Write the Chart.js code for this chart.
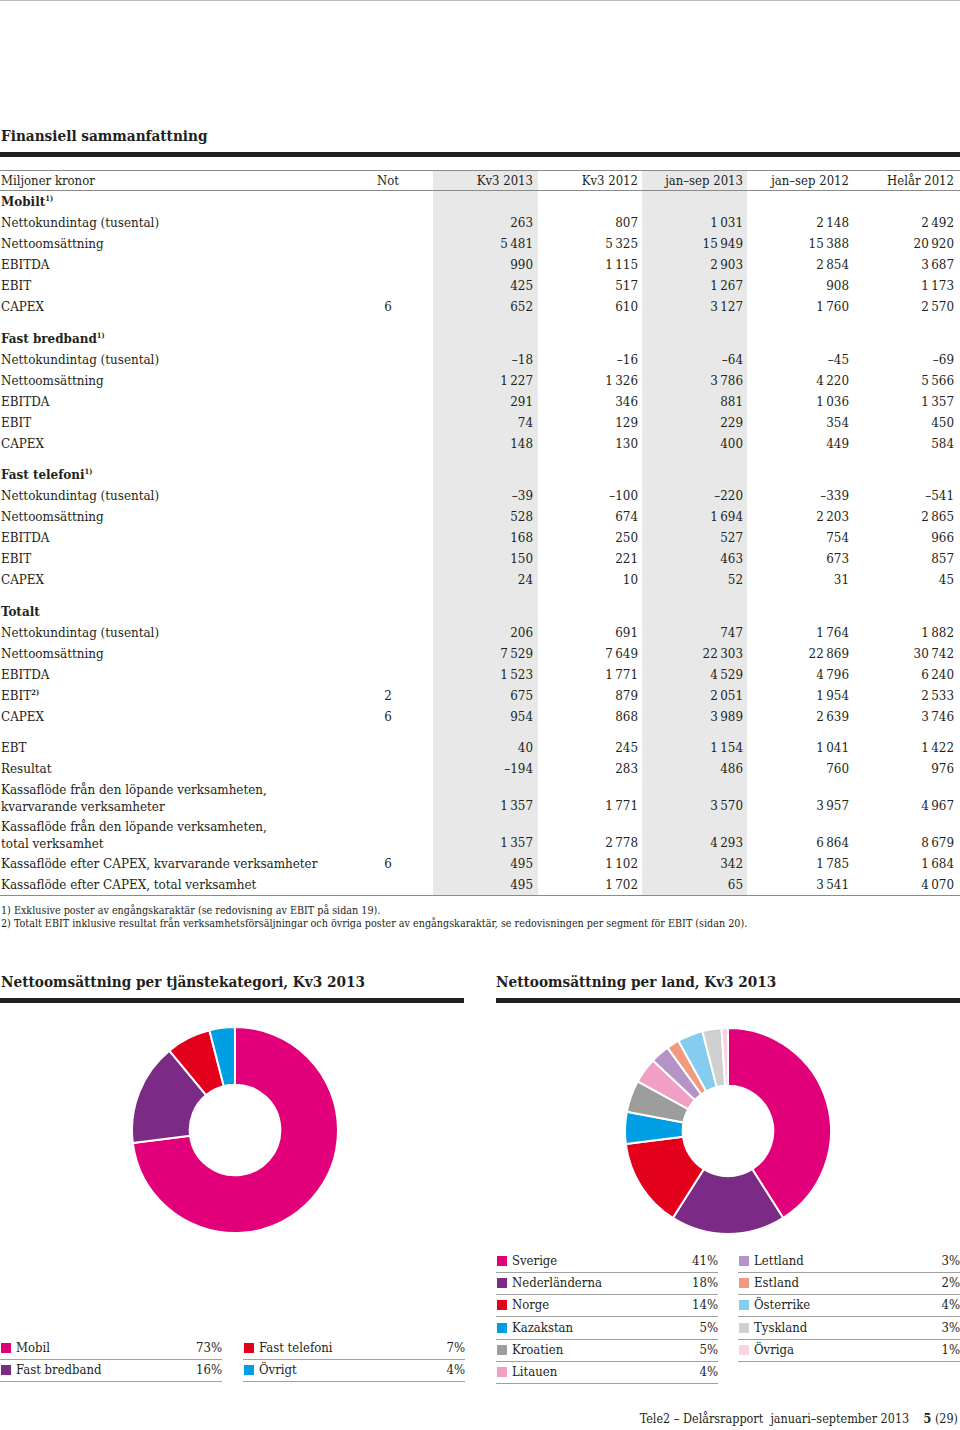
<!DOCTYPE html>
<html><head><meta charset="utf-8">
<script src="https://cdn.jsdelivr.net/npm/chart.js@4.4.0/dist/chart.umd.min.js"></script>
<style>
body{margin:0;width:960px;height:1430px;position:relative;background:#fff;font-family:"DejaVu Serif",serif;font-stretch:condensed;color:#231f20;overflow:hidden}
.abs{position:absolute}
.title{position:absolute;font-weight:bold;font-size:15.2px;line-height:20px;white-space:nowrap}
.bar{position:absolute;height:5px;background:#231f20}
.band{position:absolute;background:#e8e8e8;top:171px;height:725px;width:105px}
#table{position:absolute;left:0;top:170px;width:960px;font-size:13.3px}
.row{position:relative;height:21px;line-height:21px;white-space:nowrap}
.row span{position:absolute;top:0}
.lbl{left:1px}
.not{left:368px;width:40px;text-align:center}
.val{text-align:right}
.hdr{border-top:1.5px solid #8a8a8a;border-bottom:1.5px solid #8a8a8a;height:19px;line-height:19px;font-size:13px}
.bold{font-weight:bold}
sup{font-size:7.5px;line-height:0;vertical-align:5px;font-weight:bold}
.two{height:37px}
.two .lbl{line-height:17px;top:2px;white-space:pre}
.two .val,.two .not{top:16px}
.last{border-bottom:1.5px solid #8a8a8a}
.foot{position:absolute;left:1px;font-size:10.7px;line-height:13px;white-space:nowrap}
.leg{position:absolute;font-size:13px;height:22px;line-height:20px;border-bottom:1.5px solid #a0a0a0;box-sizing:border-box;white-space:nowrap}
.leg i{position:absolute;left:1px;top:5px;width:10px;height:10px}
.leg .t{position:absolute;left:16px}
.leg .p{position:absolute;right:0}
canvas{position:absolute}
</style></head>
<body>
<div class="abs" style="left:0;top:0;width:960px;height:1px;background:#bbb"></div>
<div class="title" style="left:1px;top:126px">Finansiell sammanfattning</div>
<div class="bar" style="left:0;top:152px;width:960px"></div>
<div class="band" style="left:433px"></div>
<div class="band" style="left:642px"></div>
<div id="table"></div>
<div class="foot" style="top:904px">1) Exklusive poster av engångskaraktär (se redovisning av EBIT på sidan 19).</div>
<div class="foot" style="top:917px">2) Totalt EBIT inklusive resultat från verksamhetsförsäljningar och övriga poster av engångskaraktär, se redovisningen per segment för EBIT (sidan 20).</div>

<div class="title" style="left:1px;top:972px">Nettoomsättning per tjänstekategori, Kv3 2013</div>
<div class="bar" style="left:0;top:998px;width:464px"></div>
<div class="title" style="left:496px;top:972px">Nettoomsättning per land, Kv3 2013</div>
<div class="bar" style="left:496px;top:998px;width:464px"></div>

<canvas id="c1" width="208" height="208" style="left:131px;top:1026px"></canvas>
<canvas id="c2" width="208" height="208" style="left:624px;top:1027px"></canvas>
<div id="legends"></div>

<div class="abs" style="right:2px;top:1410px;font-size:12.5px;line-height:18px;white-space:nowrap">Tele2 – Delårsrapport&nbsp; januari–september 2013&nbsp;&nbsp;&nbsp; <b>5</b> (29)</div>

<script>
// ---- Table data ----
const tableColumns = ["Kv3 2013", "Kv3 2012", "jan–sep 2013", "jan–sep 2012", "Helår 2012"];
const segmentRowLabels = ["Nettokundintag (tusental)", "Nettoomsättning", "EBITDA", "EBIT", "CAPEX"];

const mobiltNot = ["", "", "", "", "6"];
const mobiltValues = [
  [263, 807, 1031, 2148, 2492],
  [5481, 5325, 15949, 15388, 20920],
  [990, 1115, 2903, 2854, 3687],
  [425, 517, 1267, 908, 1173],
  [652, 610, 3127, 1760, 2570]
];
const bredbandValues = [
  [-18, -16, -64, -45, -69],
  [1227, 1326, 3786, 4220, 5566],
  [291, 346, 881, 1036, 1357],
  [74, 129, 229, 354, 450],
  [148, 130, 400, 449, 584]
];
const telefoniValues = [
  [-39, -100, -220, -339, -541],
  [528, 674, 1694, 2203, 2865],
  [168, 250, 527, 754, 966],
  [150, 221, 463, 673, 857],
  [24, 10, 52, 31, 45]
];
const totaltNot = ["", "", "", "2", "6"];
const totaltValues = [
  [206, 691, 747, 1764, 1882],
  [7529, 7649, 22303, 22869, 30742],
  [1523, 1771, 4529, 4796, 6240],
  [675, 879, 2051, 1954, 2533],
  [954, 868, 3989, 2639, 3746]
];
const otherLabels = [
  "EBT",
  "Resultat",
  "Kassaflöde från den löpande verksamheten,\nkvarvarande verksamheter",
  "Kassaflöde från den löpande verksamheten,\ntotal verksamhet",
  "Kassaflöde efter CAPEX, kvarvarande verksamheter",
  "Kassaflöde efter CAPEX, total verksamhet"
];
const otherNot = ["", "", "", "", "6", ""];
const otherValues = [
  [40, 245, 1154, 1041, 1422],
  [-194, 283, 486, 760, 976],
  [1357, 1771, 3570, 3957, 4967],
  [1357, 2778, 4293, 6864, 8679],
  [495, 1102, 342, 1785, 1684],
  [495, 1702, 65, 3541, 4070]
];

// ---- Doughnut data ----
const categoryLabels = ["Mobil", "Fast bredband", "Fast telefoni", "Övrigt"];
const categoryShares = [73, 16, 7, 4];
const countryLabels = ["Sverige", "Nederländerna", "Norge", "Kazakstan", "Kroatien", "Litauen",
  "Lettland", "Estland", "Österrike", "Tyskland", "Övriga"];
const countryShares = [41, 18, 14, 5, 5, 4, 3, 2, 4, 3, 1];

// ---- Styles ----
const categoryColors = ["#e2007a", "#7b2b85", "#e2001a", "#009fe3"];
const countryColors = ["#e2007a", "#7b2b85", "#e2001a", "#009fe3", "#9d9d9c", "#f29fc5",
  "#b593c6", "#f09b7d", "#84cdef", "#d0d0d0", "#f9d3e4"];
const colRight = [533, 638, 743, 849, 954];

function fmt(v) {
  const s = Math.abs(v).toString().replace(/\B(?=(\d{3})+(?!\d))/g, "\u2009");
  return (v < 0 ? "\u2013" : "") + s;
}
const table = document.getElementById("table");
function addRow(label, not, vals, cls, sup) {
  const r = document.createElement("div");
  r.className = "row" + (cls ? " " + cls : "");
  let h = `<span class="lbl">${label}${sup ? `<sup>${sup}</sup>` : ""}</span>`;
  if (not) h += `<span class="not">${not}</span>`;
  if (vals) vals.forEach((v, i) => {
    h += `<span class="val" style="right:${960 - colRight[i]}px">${typeof v === "number" ? fmt(v) : v}</span>`;
  });
  r.innerHTML = h;
  table.appendChild(r);
  return r;
}
function spacer(h) {
  const d = document.createElement("div"); d.style.height = h + "px"; table.appendChild(d);
}
addRow("Miljoner kronor", "Not", tableColumns, "hdr");
function section(title, vals, nots) {
  addRow(title, "", null, "bold", "1)");
  vals.forEach((v, i) => addRow(segmentRowLabels[i], nots ? nots[i] : "", v, ""));
}
section("Mobilt", mobiltValues, mobiltNot);
spacer(10.5);
section("Fast bredband", bredbandValues, null);
spacer(10.5);
section("Fast telefoni", telefoniValues, null);
spacer(10.5);
addRow("Totalt", "", null, "bold");
totaltValues.forEach((v, i) => addRow(segmentRowLabels[i], totaltNot[i], v, "", i === 3 ? "2)" : ""));
spacer(10.5);
otherValues.forEach((v, i) => {
  const two = otherLabels[i].includes("\n");
  addRow(otherLabels[i], otherNot[i], v, (two ? "two" : "") + (i === otherValues.length - 1 ? " last" : ""));
});

// ---- Legends ----
const legends = document.getElementById("legends");
function legendItem(x, y, w, label, share, color) {
  const d = document.createElement("div");
  d.className = "leg";
  d.style.left = x + "px"; d.style.top = y + "px"; d.style.width = w + "px";
  d.innerHTML = `<i style="background:${color}"></i><span class="t">${label}</span><span class="p">${share}%</span>`;
  legends.appendChild(d);
}
categoryLabels.forEach((l, i) => {
  const col = Math.floor(i / 2), row = i % 2;
  legendItem(col === 0 ? 0 : 243, 1338 + row * 22, 222, l, categoryShares[i], categoryColors[i]);
});
countryLabels.forEach((l, i) => {
  const col = i < 6 ? 0 : 1, row = i < 6 ? i : i - 6;
  legendItem(col === 0 ? 496 : 738, 1251 + row * 22.2, 222, l, countryShares[i], countryColors[i]);
});

// ---- Charts ----
function donut(id, labels, data, colors) {
  new Chart(document.getElementById(id), {
    type: "doughnut",
    data: { labels: labels, datasets: [{ data: data, backgroundColor: colors, borderColor: "#ffffff", borderWidth: 2 }] },
    options: {
      responsive: false, animation: false, cutout: "44%",
      layout: { padding: 0 },
      plugins: { legend: { display: false }, tooltip: { enabled: false } }
    }
  });
}
donut("c1", categoryLabels, categoryShares, categoryColors);
donut("c2", countryLabels, countryShares, countryColors);
</script>
</body></html>
